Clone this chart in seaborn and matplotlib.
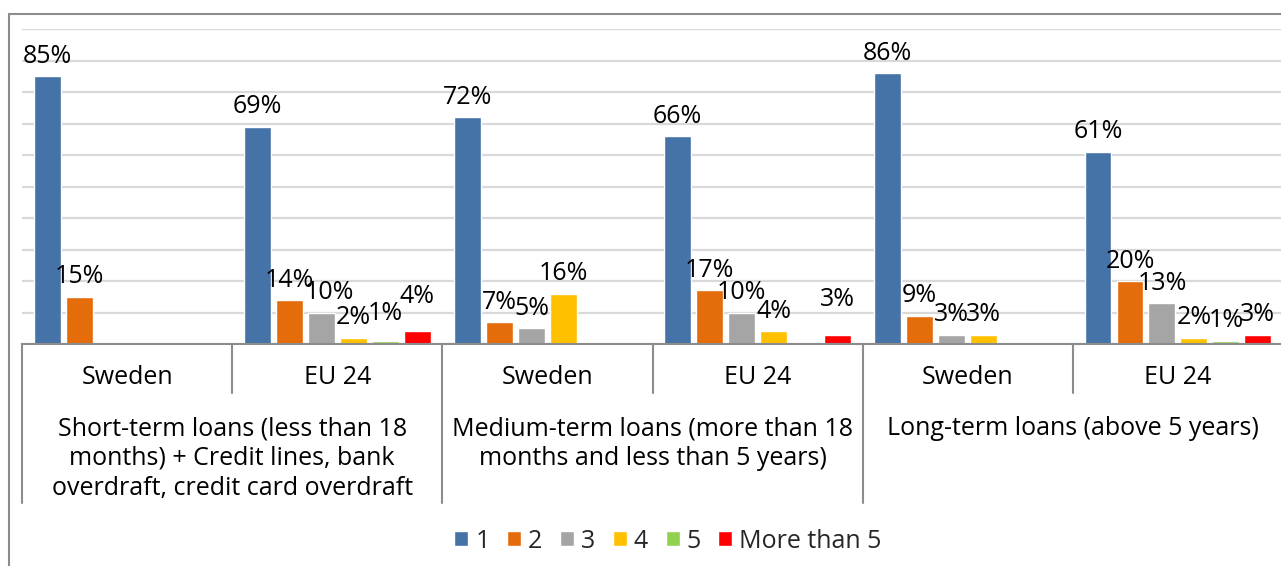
import matplotlib
matplotlib.use("Agg")
import matplotlib.pyplot as plt
import matplotlib.patches as mpatches
import seaborn as sns
import pandas as pd

# Share of firms by number of banks used, per loan type and region
loan_types = [
    "Short-term loans (less than 18\nmonths) + Credit lines, bank\noverdraft, credit card overdraft",
    "Medium-term loans (more than 18\nmonths and less than 5 years)",
    "Long-term loans (above 5 years)",
]
regions = ["Sweden", "EU 24"]
series = ["1", "2", "3", "4", "5", "More than 5"]

sweden_short = [85, 15, 0, 0, 0, 0]
eu_short = [69, 14, 10, 2, 1, 4]
sweden_medium = [72, 7, 5, 16, 0, 0]
eu_medium = [66, 17, 10, 4, 0, 3]
sweden_long = [86, 9, 3, 3, 0, 0]
eu_long = [61, 20, 13, 2, 1, 3]

colors = ["#4572A7", "#E46C0A", "#A5A5A5", "#FFC000", "#92D050", "#FF0000"]

groups = [sweden_short, eu_short, sweden_medium, eu_medium, sweden_long, eu_long]
group_keys = [f"{lt.split()[0]}|{rg}" for lt in loan_types for rg in regions]

rows = []
for key, vals in zip(group_keys, groups):
    for s, v in zip(series, vals):
        rows.append({"group": key, "banks": s, "share": v})
df = pd.DataFrame(rows)

sns.set_theme(style="white")
plt.rcParams["font.family"] = ["Open Sans", "DejaVu Sans"]
FS = 18

W, H = 1281, 566
fig = plt.figure(figsize=(W / 100, H / 100), dpi=100)

# plot area in pixel terms
left_px, right_px, top_px, base_px = 22, 1283, 29, 344
ax = fig.add_axes([left_px / W, (H - base_px) / H,
                   (right_px - left_px) / W, (base_px - top_px) / H])

sns.barplot(data=df, x="group", y="share", hue="banks", order=group_keys,
            hue_order=series, palette=colors, width=0.913, gap=0.16,
            saturation=1, ax=ax, legend=True)

ax.set_ylim(0, 100)
ax.set_xlim(-0.5, len(group_keys) - 0.5)
ax.set_yticks(range(0, 101, 10))
ax.set_yticklabels([])
ax.yaxis.grid(True, color="#d9d9d9", lw=1.6)
ax.set_axisbelow(True)
ax.set_xticks([])
ax.set_xlabel("")
ax.set_ylabel("")
for side in ["left", "right", "top"]:
    ax.spines[side].set_visible(False)
ax.spines["bottom"].set_color("#8c8c8c")
ax.spines["bottom"].set_linewidth(1.5)
ax.tick_params(left=False, bottom=False)

# value labels; a few crowded ones are moved aside (offsets in pixels)
nudges = {(1, 2): (8, 0), (1, 4): (0, 7), (1, 5): (0, 15), (3, 5): (0, 15)}
PAD = 5.3
for s_idx, cont in enumerate(ax.containers):
    labels = [f"{g[s_idx]}%" if g[s_idx] > 0 else "" for g in groups]
    anns = ax.bar_label(cont, labels=labels, padding=PAD, fontsize=FS,
                        color="black")
    for g_idx, ann in enumerate(anns):
        dx, dy = nudges.get((g_idx, s_idx), (0, 0))
        ann.xyann = (dx * 0.72, PAD + dy * 0.72)

# hierarchical category axis
ax_h = base_px - top_px
short_y = -(393 - base_px) / ax_h
long_y = -(503 - base_px) / ax_h
trans = ax.get_xaxis_transform()
for i in range(len(group_keys) + 1):
    x = i - 0.5
    y_end = long_y if i % 2 == 0 else short_y
    ax.plot([x, x], [0, y_end], transform=trans, color="#8c8c8c", lw=1.5,
            clip_on=False)

for i, key in enumerate(group_keys):
    ax.text(i, -(377 - base_px) / ax_h, key.split("|")[1], transform=trans,
            ha="center", va="center", fontsize=FS, color="black")

for j, lt in enumerate(loan_types):
    ax.text(2 * j + 0.5, -(416 - base_px) / ax_h, lt, transform=trans,
            ha="center", va="top", fontsize=FS, color="black",
            multialignment="center", linespacing=1.25)

# legend
sns.move_legend(ax, loc="center", bbox_to_anchor=((668 - left_px) / (right_px - left_px),
                                                   -(541 - base_px) / ax_h),
                ncol=6, frameon=False, title=None, fontsize=FS,
                handlelength=0.56, handleheight=0.58, handletextpad=0.28,
                columnspacing=0.7)

# outer chart border
fig.patches.append(mpatches.Rectangle((9 / W, -0.1), 1.2, (H - 14) / H + 0.1,
                                      transform=fig.transFigure, fill=False,
                                      edgecolor="#8c8c8c", lw=1.5))

fig.savefig("out.png", dpi=100)
